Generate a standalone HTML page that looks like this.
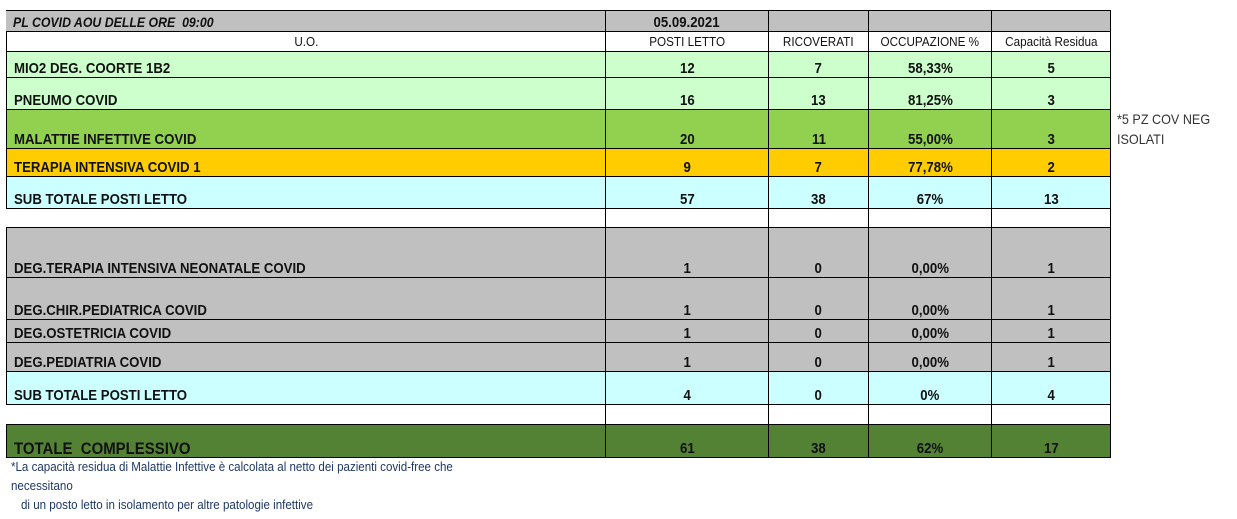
<!DOCTYPE html>
<html><head><meta charset="utf-8"><style>
body{margin:0;width:1237px;height:519px;background:#fff;position:relative;overflow:hidden;font-family:"Liberation Sans",Arial,sans-serif;}
.c{position:absolute;box-sizing:border-box;border:1px solid #000;display:flex;align-items:flex-end;justify-content:center;font-weight:bold;font-size:15px;color:#111;padding-bottom:0px;line-height:17px;white-space:nowrap}
.c span{display:inline-block;transform:scaleX(0.88);transform-origin:center bottom}
.l{justify-content:flex-start;padding-left:7px}
.l span{transform-origin:left bottom}
.n{font-weight:normal;font-size:13px;align-items:center;padding-bottom:0}
.n span{transform:scaleX(0.9)}
.t{position:absolute;font-family:"Liberation Sans",sans-serif;font-size:13px;white-space:nowrap;transform-origin:left top}
</style></head><body>
<div class="c l" style="left:6px;top:10px;width:600px;height:22px;background:#c0c0c0;border-left:none;font-style:italic;font-size:14px"><span>PL COVID AOU DELLE ORE &nbsp;09:00</span></div>
<div class="c" style="left:605px;top:10px;width:164px;height:22px;background:#c0c0c0"><span>05.09.2021</span></div>
<div class="c" style="left:768px;top:10px;width:101px;height:22px;background:#c0c0c0"></div>
<div class="c" style="left:868px;top:10px;width:124px;height:22px;background:#c0c0c0"></div>
<div class="c" style="left:991px;top:10px;width:120px;height:22px;background:#c0c0c0"></div>

<div class="c n" style="left:6px;top:31px;width:600px;height:21px"><span>U.O.</span></div>
<div class="c n" style="left:605px;top:31px;width:164px;height:21px"><span>POSTI LETTO</span></div>
<div class="c n" style="left:768px;top:31px;width:101px;height:21px"><span>RICOVERATI</span></div>
<div class="c n" style="left:868px;top:31px;width:124px;height:21px"><span>OCCUPAZIONE %</span></div>
<div class="c n" style="left:991px;top:31px;width:120px;height:21px"><span>Capacità Residua</span></div>

<div class="c l" style="left:6px;top:51px;width:600px;height:27px;background:#ccffcc"><span>MIO2 DEG. COORTE 1B2</span></div>
<div class="c" style="left:605px;top:51px;width:164px;height:27px;background:#ccffcc"><span>12</span></div>
<div class="c" style="left:768px;top:51px;width:101px;height:27px;background:#ccffcc"><span>7</span></div>
<div class="c" style="left:868px;top:51px;width:124px;height:27px;background:#ccffcc"><span>58,33%</span></div>
<div class="c" style="left:991px;top:51px;width:120px;height:27px;background:#ccffcc"><span>5</span></div>

<div class="c l" style="left:6px;top:77px;width:600px;height:33px;background:#ccffcc"><span>PNEUMO COVID</span></div>
<div class="c" style="left:605px;top:77px;width:164px;height:33px;background:#ccffcc"><span>16</span></div>
<div class="c" style="left:768px;top:77px;width:101px;height:33px;background:#ccffcc"><span>13</span></div>
<div class="c" style="left:868px;top:77px;width:124px;height:33px;background:#ccffcc"><span>81,25%</span></div>
<div class="c" style="left:991px;top:77px;width:120px;height:33px;background:#ccffcc"><span>3</span></div>

<div class="c l" style="left:6px;top:109px;width:600px;height:40px;background:#92d050"><span>MALATTIE INFETTIVE COVID</span></div>
<div class="c" style="left:605px;top:109px;width:164px;height:40px;background:#92d050"><span>20</span></div>
<div class="c" style="left:768px;top:109px;width:101px;height:40px;background:#92d050"><span>11</span></div>
<div class="c" style="left:868px;top:109px;width:124px;height:40px;background:#92d050"><span>55,00%</span></div>
<div class="c" style="left:991px;top:109px;width:120px;height:40px;background:#92d050"><span>3</span></div>

<div class="c l" style="left:6px;top:148px;width:600px;height:29px;background:#ffcc00"><span>TERAPIA INTENSIVA COVID 1</span></div>
<div class="c" style="left:605px;top:148px;width:164px;height:29px;background:#ffcc00"><span>9</span></div>
<div class="c" style="left:768px;top:148px;width:101px;height:29px;background:#ffcc00"><span>7</span></div>
<div class="c" style="left:868px;top:148px;width:124px;height:29px;background:#ffcc00"><span>77,78%</span></div>
<div class="c" style="left:991px;top:148px;width:120px;height:29px;background:#ffcc00"><span>2</span></div>

<div class="c l" style="left:6px;top:176px;width:600px;height:33px;background:#ccffff"><span>SUB TOTALE POSTI LETTO</span></div>
<div class="c" style="left:605px;top:176px;width:164px;height:33px;background:#ccffff"><span>57</span></div>
<div class="c" style="left:768px;top:176px;width:101px;height:33px;background:#ccffff"><span>38</span></div>
<div class="c" style="left:868px;top:176px;width:124px;height:33px;background:#ccffff"><span>67%</span></div>
<div class="c" style="left:991px;top:176px;width:120px;height:33px;background:#ccffff"><span>13</span></div>

<div class="c" style="left:605px;top:208px;width:164px;height:20px"></div>
<div class="c" style="left:768px;top:208px;width:101px;height:20px"></div>
<div class="c" style="left:868px;top:208px;width:124px;height:20px"></div>
<div class="c" style="left:991px;top:208px;width:120px;height:20px"></div>

<div class="c l" style="left:6px;top:227px;width:600px;height:51px;background:#c0c0c0"><span>DEG.TERAPIA INTENSIVA NEONATALE COVID</span></div>
<div class="c" style="left:605px;top:227px;width:164px;height:51px;background:#c0c0c0"><span>1</span></div>
<div class="c" style="left:768px;top:227px;width:101px;height:51px;background:#c0c0c0"><span>0</span></div>
<div class="c" style="left:868px;top:227px;width:124px;height:51px;background:#c0c0c0"><span>0,00%</span></div>
<div class="c" style="left:991px;top:227px;width:120px;height:51px;background:#c0c0c0"><span>1</span></div>

<div class="c l" style="left:6px;top:277px;width:600px;height:43px;background:#c0c0c0"><span>DEG.CHIR.PEDIATRICA COVID</span></div>
<div class="c" style="left:605px;top:277px;width:164px;height:43px;background:#c0c0c0"><span>1</span></div>
<div class="c" style="left:768px;top:277px;width:101px;height:43px;background:#c0c0c0"><span>0</span></div>
<div class="c" style="left:868px;top:277px;width:124px;height:43px;background:#c0c0c0"><span>0,00%</span></div>
<div class="c" style="left:991px;top:277px;width:120px;height:43px;background:#c0c0c0"><span>1</span></div>

<div class="c l" style="left:6px;top:319px;width:600px;height:24px;background:#c0c0c0"><span>DEG.OSTETRICIA COVID</span></div>
<div class="c" style="left:605px;top:319px;width:164px;height:24px;background:#c0c0c0"><span>1</span></div>
<div class="c" style="left:768px;top:319px;width:101px;height:24px;background:#c0c0c0"><span>0</span></div>
<div class="c" style="left:868px;top:319px;width:124px;height:24px;background:#c0c0c0"><span>0,00%</span></div>
<div class="c" style="left:991px;top:319px;width:120px;height:24px;background:#c0c0c0"><span>1</span></div>

<div class="c l" style="left:6px;top:342px;width:600px;height:30px;background:#c0c0c0"><span>DEG.PEDIATRIA COVID</span></div>
<div class="c" style="left:605px;top:342px;width:164px;height:30px;background:#c0c0c0"><span>1</span></div>
<div class="c" style="left:768px;top:342px;width:101px;height:30px;background:#c0c0c0"><span>0</span></div>
<div class="c" style="left:868px;top:342px;width:124px;height:30px;background:#c0c0c0"><span>0,00%</span></div>
<div class="c" style="left:991px;top:342px;width:120px;height:30px;background:#c0c0c0"><span>1</span></div>

<div class="c l" style="left:6px;top:371px;width:600px;height:34px;background:#ccffff"><span>SUB TOTALE POSTI LETTO</span></div>
<div class="c" style="left:605px;top:371px;width:164px;height:34px;background:#ccffff"><span>4</span></div>
<div class="c" style="left:768px;top:371px;width:101px;height:34px;background:#ccffff"><span>0</span></div>
<div class="c" style="left:868px;top:371px;width:124px;height:34px;background:#ccffff"><span>0%</span></div>
<div class="c" style="left:991px;top:371px;width:120px;height:34px;background:#ccffff"><span>4</span></div>

<div class="c" style="left:605px;top:404px;width:164px;height:21px"></div>
<div class="c" style="left:768px;top:404px;width:101px;height:21px"></div>
<div class="c" style="left:868px;top:404px;width:124px;height:21px"></div>
<div class="c" style="left:991px;top:404px;width:120px;height:21px"></div>

<div class="c l" style="left:6px;top:424px;width:600px;height:34px;background:#548235;font-size:17px"><span>TOTALE &nbsp;COMPLESSIVO</span></div>
<div class="c" style="left:605px;top:424px;width:164px;height:34px;background:#548235"><span>61</span></div>
<div class="c" style="left:768px;top:424px;width:101px;height:34px;background:#548235"><span>38</span></div>
<div class="c" style="left:868px;top:424px;width:124px;height:34px;background:#548235"><span>62%</span></div>
<div class="c" style="left:991px;top:424px;width:120px;height:34px;background:#548235"><span>17</span></div>

<div class="t" style="left:1117px;top:111px;color:#333;font-size:14px;transform:scaleX(0.9)">*5 PZ COV NEG</div>
<div class="t" style="left:1117px;top:131px;color:#333;font-size:14px;transform:scaleX(0.9)">ISOLATI</div>
<div class="t" style="left:11px;top:459px;color:#1f3864;transform:scaleX(0.89)">*La capacità residua di Malattie Infettive è calcolata al netto dei pazienti covid-free che</div>
<div class="t" style="left:11px;top:478px;color:#1f3864;transform:scaleX(0.89)">necessitano</div>
<div class="t" style="left:21px;top:497px;color:#1f3864;transform:scaleX(0.89)">di un posto letto in isolamento per altre patologie infettive</div>
</body></html>
